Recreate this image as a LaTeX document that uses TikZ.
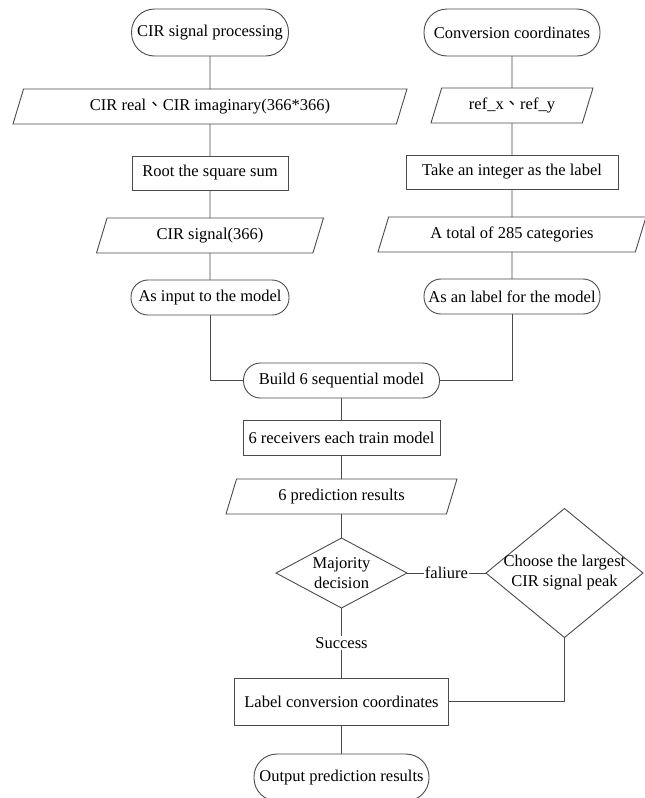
\documentclass[tikz,border=0pt]{standalone}
\usepackage{fontspec}
\setmainfont{Liberation Serif}
\newfontfamily\cjkfont{Noto Sans CJK TC}
\usetikzlibrary{shapes.geometric, positioning}
\definecolor{linegray}{RGB}{75,75,75}

\begin{document}
\begin{tikzpicture}[
        font=\fontsize{16.5pt}{20pt}\selectfont,
        line width=0.9pt,
        every node/.style={outer sep=0pt},
        terminal/.style={rectangle, draw=linegray, fill=white, rounded corners=17pt, minimum height=35pt, inner xsep=0pt, align=center},
        terminalbig/.style={terminal, rounded corners=23pt, minimum height=47pt},
        process/.style={rectangle, draw=linegray, fill=white, minimum height=35pt, inner xsep=0pt, align=center},
        io/.style={trapezium, trapezium left angle=64, trapezium right angle=116, trapezium stretches body, draw=linegray, fill=white, minimum height=35pt, inner xsep=0pt},
        decision/.style={diamond, draw=linegray, fill=white, align=center, inner sep=0pt},
        line/.style={draw=linegray},
        edgelabel/.style={fill=white, inner sep=1pt}
    ]
    \useasboundingbox (0,0) rectangle (645pt,-798pt);

    % Nodes
    \node (proc) [terminalbig, minimum width=157pt] at (210pt,-32.5pt) {CIR signal processing};
    \node (cirraw) [io, minimum width=394pt, below=33pt of proc] {CIR real{\cjkfont 、}CIR imaginary(366*366)};
    \node (root) [process, minimum width=156pt, minimum height=34pt, below=32pt of cirraw] {Root the square sum};
    \node (cirsig) [io, minimum width=227pt, below=28pt of root] {CIR signal(366)};
    \node (input) [terminal, minimum width=158pt, below=27pt of cirsig] {As input to the model};

    \node (conv) [terminalbig, minimum width=176pt, right=135.5pt of proc] {Conversion coordinates};
    \node (refxy) [io, minimum width=162pt, below=32pt of conv] {ref\_x{\cjkfont 、}ref\_y};
    \node (integer) [process, minimum width=212pt, minimum height=34pt, below=32pt of refxy] {Take an integer as the label};
    \node (total) [io, minimum width=268pt, below=28pt of integer] {A total of 285 categories};
    \node (label) [terminal, minimum width=176pt, below=27pt of total] {As an label for the model};

    \node (build) [terminal, minimum width=196pt, below=48pt of input, xshift=131.5pt] {Build 6 sequential model};
    \node (train) [process, minimum width=197pt, below=22pt of build] {6 receivers each train model};
    \node (pred) [io, minimum width=231pt, below=24pt of train] {6 prediction results};
    \node (major) [decision, minimum width=131pt, minimum height=70pt, aspect=1.87, below=24pt of pred] {Majority\\decision};
    \node (choose) [decision, minimum width=157pt, minimum height=129pt, aspect=1.22, inner sep=-5pt, right=79pt of major] {Choose the largest\\CIR signal peak};
    \node (coord) [process, minimum width=214pt, minimum height=47pt, below=70pt of major] {Label conversion coordinates};
    \node (output) [terminalbig, minimum width=175pt, below=29pt of coord] {Output prediction results};

    % Connectors
    \draw [line] (proc) -- (cirraw);
    \draw [line] (cirraw) -- (root);
    \draw [line] (root) -- (cirsig);
    \draw [line] (cirsig) -- (input);
    \draw [line] (conv) -- (refxy);
    \draw [line] (refxy) -- (integer);
    \draw [line] (integer) -- (total);
    \draw [line] (total) -- (label);
    \draw [line] (input) |- (build);
    \draw [line] (label) |- (build);
    \draw [line] (build) -- (train);
    \draw [line] (train) -- (pred);
    \draw [line] (pred) -- (major);
    \draw [line] (major) -- node [edgelabel] {faliure} (choose);
    \draw [line] (major) -- node [edgelabel] {Success} (coord);
    \draw [line] (choose) |- (coord);
    \draw [line] (coord) -- (output);

\end{tikzpicture}
\end{document}
